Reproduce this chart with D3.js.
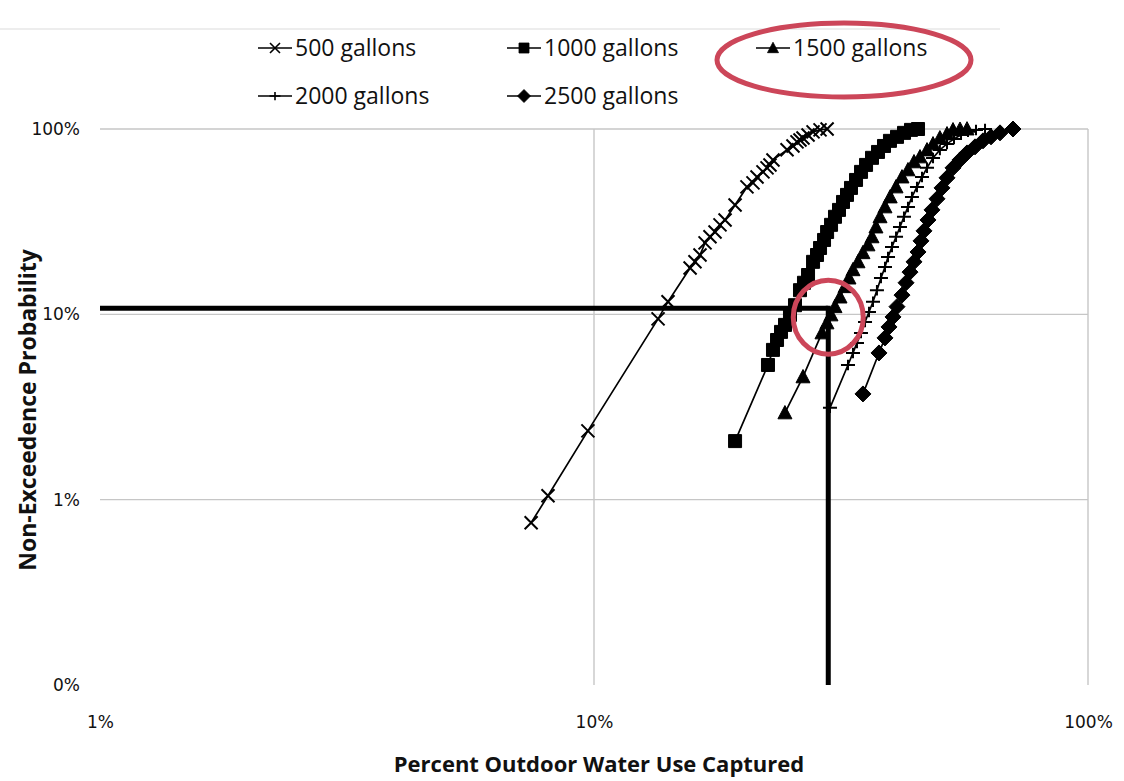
<!DOCTYPE html>
<html>
<head>
<meta charset="utf-8">
<script src="https://cdn.jsdelivr.net/npm/d3@7"></script>
<style>
  html, body { margin: 0; padding: 0; background: #fff; }
  svg { display: block; }
</style>
</head>
<body>
<svg id="chart" width="1124" height="781"></svg>
<script>
// Percent of outdoor water use captured (x) vs. non-exceedence probability (y), both in percent
const gal500 = [[7.46,0.75],[8.07,1.05],[9.72,2.35],[13.48,9.45],[14.12,11.7],[15.65,17.8],[16.01,19.2],[16.39,20.9],[16.78,24.3],[17.17,26.2],[17.58,27.8],[17.99,30.4],[18.42,32.3],[19.30,38.9],[20.40,48.7],[20.98,51.2],[21.38,55.1],[21.98,58.7],[22.40,61.7],[22.71,64.0],[23.03,68.1],[24.59,77.2],[25.28,81.0],[25.76,85.2],[26.12,87.3],[26.49,89.5],[27.12,92.9],[27.76,96.5],[28.68,98.9],[29.64,100]];
const gal1000 = [[19.30,2.07],[22.50,5.33],[23.03,6.43],[23.47,7.27],[23.91,8.04],[24.36,8.77],[24.93,9.93],[25.52,11.2],[26.12,13.5],[26.61,14.8],[27.12,16.3],[27.76,19.2],[28.28,20.9],[28.68,22.8],[29.22,25.2],[29.64,27.8],[30.19,30.4],[30.75,33.6],[31.33,36.6],[31.92,40.4],[32.52,44.1],[33.13,48.1],[33.92,53.1],[34.72,58.7],[35.54,64.0],[36.54,69.9],[37.58,75.2],[38.64,81.0],[39.73,86.3],[41.06,90.7],[42.42,95.3],[43.82,98.9],[45.28,100]];
const gal1500 = [[24.35,2.94],[26.49,4.60],[28.94,7.94],[29.62,8.99],[30.18,9.93],[30.75,11.0],[31.48,12.4],[32.22,14.1],[32.82,15.7],[33.44,17.4],[34.23,19.2],[35.03,21.5],[35.86,23.7],[36.54,26.2],[37.22,29.6],[37.93,33.6],[38.82,38.0],[39.77,43.0],[40.87,48.7],[42.02,55.1],[43.21,60.2],[44.44,66.5],[45.70,70.7],[47.22,77.1],[48.56,83.1],[50.14,89.5],[51.83,94.1],[53.30,98.9],[55.07,99.6],[56.90,100]];
const gal2000 = [[30.04,3.13],[32.67,5.33],[33.44,6.19],[34.07,7.01],[34.71,7.94],[35.37,9.10],[36.03,10.3],[36.71,11.7],[37.39,13.5],[38.10,15.7],[38.82,18.0],[39.37,20.4],[40.11,23.1],[40.87,26.2],[41.63,29.6],[42.41,33.6],[43.21,38.0],[44.02,43.0],[45.06,48.7],[46.13,55.1],[47.22,61.7],[48.56,69.8],[50.14,77.1],[51.83,83.1],[53.55,88.4],[55.33,93.0],[57.16,96.5],[59.33,98.9],[61.88,100]];
const gal2500 = [[35.03,3.72],[37.75,6.19],[38.82,7.46],[39.55,8.55],[40.30,9.68],[41.05,11.0],[42.02,12.7],[42.82,14.8],[43.62,16.9],[44.44,19.2],[45.28,21.7],[45.91,24.9],[46.56,28.2],[47.44,32.3],[48.33,36.6],[49.47,42.0],[50.64,48.1],[51.83,54.5],[53.30,61.7],[55.07,68.1],[56.90,74.3],[59.06,80.1],[61.30,86.3],[63.63,90.7],[66.36,95.3],[70.50,100]];

const seriesNames = ["500 gallons", "1000 gallons", "1500 gallons", "2000 gallons", "2500 gallons"];

// Axis ticks
const xTickValues = [1, 10, 100];
const xTickLabels = ["1%", "10%", "100%"];
const yTickValues = [0.1, 1, 10, 100];
const yTickLabels = ["0%", "1%", "10%", "100%"];

// Design point: 10% non-exceedence at about 30% capture
const thresholdCapture = 29.8;
const thresholdProbability = 10.8;

const xTitle = "Percent Outdoor Water Use Captured";
const yTitle = "Non-Exceedence Probability";

// ---------------------------------------------------------------
const svg = d3.select("#chart");
const W = 1124, H = 781;
svg.append("rect").attr("width", W).attr("height", H).attr("fill", "#fff");

const x = d3.scaleLog().domain([1, 100]).range([100, 1088]);
const y = d3.scaleLog().domain([0.1, 100]).range([685, 129]);

// Custom marker shapes (size = full width in px)
const markX = { draw(ctx, s) { const r = s / 2; ctx.moveTo(-r, -r); ctx.lineTo(r, r); ctx.moveTo(-r, r); ctx.lineTo(r, -r); } };
const markPlus = { draw(ctx, s) { const r = s / 2; ctx.moveTo(-r, 0); ctx.lineTo(r, 0); ctx.moveTo(0, -r * 0.75); ctx.lineTo(0, r * 0.75); } };
const markSquare = { draw(ctx, s) { const r = s / 2; ctx.rect(-r, -r, s, s); } };
const markTriangle = { draw(ctx, s) { const r = s / 2; ctx.moveTo(0, -r * 1.05); ctx.lineTo(r, r * 0.85); ctx.lineTo(-r, r * 0.85); ctx.closePath(); } };
const markDiamond = { draw(ctx, s) { const r = s / 2; ctx.moveTo(0, -r); ctx.lineTo(r, 0); ctx.lineTo(0, r); ctx.lineTo(-r, 0); ctx.closePath(); } };

const series = [
  { name: seriesNames[0], data: gal500,  shape: markX,        size: 13, filled: false },
  { name: seriesNames[1], data: gal1000, shape: markSquare,   size: 13, filled: true },
  { name: seriesNames[2], data: gal1500, shape: markTriangle, size: 14, filled: true },
  { name: seriesNames[3], data: gal2000, shape: markPlus,     size: 14, filled: false },
  { name: seriesNames[4], data: gal2500, shape: markDiamond,  size: 16, filled: true }
];

// Chart border line at top
svg.append("line").attr("x1", 0).attr("x2", 1000).attr("y1", 29).attr("y2", 29)
  .attr("stroke", "#dcdcdc").attr("stroke-width", 1.2);

// Gridlines
const grid = svg.append("g").attr("stroke", "#c6c6c6").attr("stroke-width", 1.4);
grid.selectAll("line.h").data(yTickValues.filter(v => v >= 1)).join("line")
  .attr("x1", x(1)).attr("x2", x(100))
  .attr("y1", d => y(d)).attr("y2", d => y(d));
grid.selectAll("line.v").data(xTickValues.filter(v => v > 1)).join("line")
  .attr("x1", d => x(d)).attr("x2", d => x(d))
  .attr("y1", y(100)).attr("y2", y(0.1));

// Axes (labels only)
const fontTicks = "'DejaVu Sans', sans-serif";
const yAxis = d3.axisLeft(y).tickValues(yTickValues)
  .tickFormat((d, i) => yTickLabels[i]).tickSize(0).tickPadding(20);
const gy = svg.append("g").attr("transform", `translate(${x(1)},0)`).call(yAxis);
gy.select(".domain").remove();
gy.selectAll("text").attr("font-family", fontTicks).attr("font-size", 17).attr("fill", "#111");

const xAxis = d3.axisBottom(x).tickValues(xTickValues)
  .tickFormat((d, i) => xTickLabels[i]).tickSize(0).tickPadding(31);
const gx = svg.append("g").attr("transform", `translate(0,${y(0.1)})`).call(xAxis);
gx.select(".domain").remove();
gx.selectAll("text").attr("font-family", fontTicks).attr("font-size", 17).attr("fill", "#111");

// Axis titles
svg.append("text").attr("x", 599).attr("y", 772).attr("text-anchor", "middle")
  .attr("font-family", "'Open Sans', sans-serif").attr("font-weight", 700).attr("font-size", 22)
  .attr("fill", "#111").text(xTitle);
svg.append("text").attr("transform", "translate(28,410) rotate(-90)").attr("text-anchor", "middle")
  .attr("dy", "0.35em")
  .attr("font-family", "'Open Sans', sans-serif").attr("font-weight", 700).attr("font-size", 23)
  .attr("fill", "#111").text(yTitle);

// Series lines and markers
const line = d3.line().x(d => x(d[0])).y(d => y(d[1]));
const plot = svg.append("g");
series.forEach(s => {
  plot.append("path").datum(s.data).attr("d", line)
    .attr("fill", "none").attr("stroke", "#000").attr("stroke-width", 1.7);
});
series.forEach(s => {
  const sym = d3.symbol().type(s.shape).size(s.size);
  plot.append("g").selectAll("path").data(s.data).join("path")
    .attr("transform", d => `translate(${x(d[0])},${y(d[1])})`)
    .attr("d", sym)
    .attr("fill", s.filled ? "#000" : "none")
    .attr("stroke", "#000")
    .attr("stroke-width", s.filled ? 1 : 2);
});

// Design-point guide lines
svg.append("line")
  .attr("x1", x(1)).attr("x2", x(thresholdCapture))
  .attr("y1", y(thresholdProbability)).attr("y2", y(thresholdProbability))
  .attr("stroke", "#000").attr("stroke-width", 5);
svg.append("line")
  .attr("x1", x(thresholdCapture)).attr("x2", x(thresholdCapture))
  .attr("y1", y(thresholdProbability) - 2.5).attr("y2", y(0.1))
  .attr("stroke", "#000").attr("stroke-width", 5);

// Legend
const legendItems = [
  { s: series[0], lx: 258, ly: 48 },
  { s: series[1], lx: 507, ly: 48 },
  { s: series[2], lx: 756, ly: 48 },
  { s: series[3], lx: 258, ly: 96 },
  { s: series[4], lx: 507, ly: 96 }
];
const legend = svg.append("g");
legendItems.forEach(it => {
  const g = legend.append("g").attr("transform", `translate(${it.lx},${it.ly})`);
  g.append("line").attr("x1", 0).attr("x2", 34).attr("y1", 0).attr("y2", 0)
    .attr("stroke", "#000").attr("stroke-width", 1.7);
  g.append("path").attr("transform", "translate(17,0)")
    .attr("d", d3.symbol().type(it.s.shape).size(it.s.size - 3))
    .attr("fill", it.s.filled ? "#000" : "none").attr("stroke", "#000")
    .attr("stroke-width", it.s.filled ? 0.8 : 1.6);
  g.append("text").attr("x", 37).attr("y", 0).attr("dy", "0.35em")
    .attr("font-family", "'Open Sans', sans-serif").attr("font-size", 23).attr("fill", "#111")
    .text(it.s.name);
});

// Red hand-drawn highlights
const red = "#cc4659";
svg.append("ellipse").attr("cx", 844).attr("cy", 60).attr("rx", 127).attr("ry", 37)
  .attr("fill", "none").attr("stroke", red).attr("stroke-width", 5);
svg.append("ellipse")
  .attr("cx", x(thresholdCapture)).attr("cy", y(thresholdProbability) + 9)
  .attr("rx", 35).attr("ry", 37)
  .attr("fill", "none").attr("stroke", red).attr("stroke-width", 5);
</script>
</body>
</html>
